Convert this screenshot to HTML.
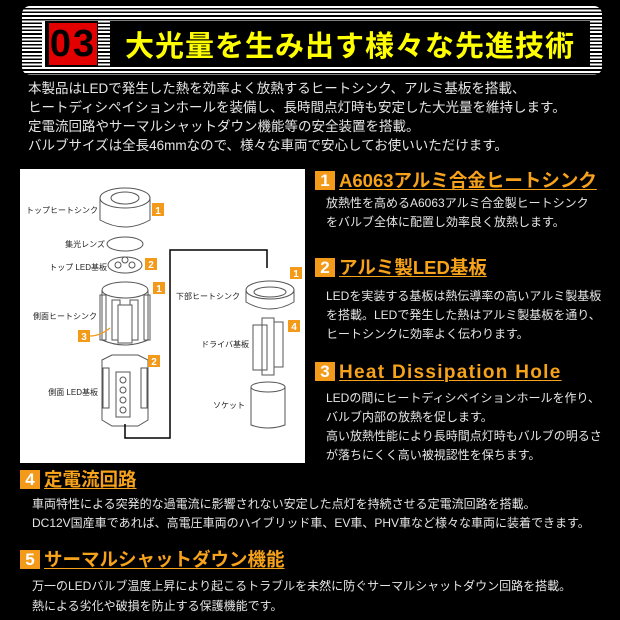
<!DOCTYPE html>
<html><head><meta charset="utf-8"><style>
*{margin:0;padding:0;box-sizing:border-box}
body{width:620px;height:620px;background:#000;position:relative;overflow:hidden;font-family:"Liberation Sans","Noto Sans CJK JP",sans-serif;color:#e8e8e8}
.band{position:absolute;left:22px;top:6px;width:580px;height:69px;border-radius:8px;background:repeating-linear-gradient(#fff 0 2px,#000 2px 3.6px)}
.num{position:absolute;left:42px;top:21px;width:56px;height:46px;background:#000;border-left:3px solid #fff}
.num span{position:absolute;left:4px;top:2px;width:48px;height:42px;background:#e20000;color:#000;font:bold 38px/42px "Liberation Sans",sans-serif;text-align:center;letter-spacing:2px}
.title{position:absolute;left:110px;top:21px;width:480px;height:46px;background:#000;color:#ffff00;font:bold 29px/46px "Noto Sans CJK JP",sans-serif;text-align:center;letter-spacing:1px;white-space:nowrap}
.t{position:absolute;font-size:13.5px;line-height:19px;white-space:nowrap;color:#e6e6e6}
.s{font-size:12px}
.h{position:absolute;white-space:nowrap;font-weight:bold;color:#f7a21b;font-size:18.5px;line-height:22px;text-decoration:underline;text-decoration-thickness:1px;text-underline-offset:2px}
.h b{display:inline-block;width:20px;height:19px;background:#f39a1a;color:#fff;text-align:center;font:bold 17px/19px "Liberation Sans",sans-serif;margin-right:4px;vertical-align:1px;text-decoration:none;letter-spacing:0}
.box{position:absolute;left:20px;top:169px;width:285px;height:294px;background:#fff}
</style></head><body>
<div class="band"></div>
<div class="num"><span>03</span></div>
<div class="title">大光量を生み出す様々な先進技術</div>
<div class="t" style="left:28px;top:79px">本製品はLEDで発生した熱を効率よく放熱するヒートシンク、アルミ基板を搭載、<br>ヒートディシペイションホールを装備し、長時間点灯時も安定した大光量を維持します。<br>定電流回路やサーマルシャットダウン機能等の安全装置を搭載。<br>バルブサイズは全長46mmなので、様々な車両で安心してお使いいただけます。</div>

<div class="box"></div>
<svg style="position:absolute;left:0;top:0" width="620" height="620" font-family="Liberation Sans,Noto Sans CJK JP,sans-serif" font-size="8">
<g fill="none" stroke="#555" stroke-width="1">
<path d="M100 198 v22 q25 14 50 0 v-22"/><ellipse cx="125" cy="198" rx="25" ry="10" fill="#fff"/><ellipse cx="125" cy="198" rx="14" ry="6"/>
<ellipse cx="125" cy="244" rx="18" ry="7"/>
<ellipse cx="125" cy="265" rx="17" ry="8"/><circle cx="118" cy="265" r="3"/><circle cx="132" cy="265" r="3"/><circle cx="125" cy="260" r="3"/>
<ellipse cx="125" cy="290" rx="23" ry="8"/><path d="M102 290 v50 q23 10 46 0 v-50"/>
<rect x="100" y="295" width="6" height="45"/><rect x="144" y="295" width="6" height="45"/><rect x="112" y="300" width="8" height="40"/><rect x="130" y="300" width="8" height="40"/><rect x="118" y="305" width="14" height="38" fill="#fff"/>
<path d="M102 360 l10-5 h26 l10 5 v60 l-10 6 h-26 l-10-6z"/><rect x="116" y="372" width="14" height="45"/><rect x="103" y="368" width="6" height="40"/><rect x="141" y="368" width="6" height="40"/>
<circle cx="123" cy="380" r="3"/><circle cx="123" cy="390" r="3"/><circle cx="123" cy="400" r="3"/><circle cx="123" cy="410" r="3"/>
<ellipse cx="270" cy="290" rx="24" ry="9"/><ellipse cx="270" cy="292" rx="16" ry="5"/><path d="M246 290 v12 q24 14 48 0 v-12"/>
<rect x="253" y="325" width="14" height="45"/><rect x="262" y="318" width="12" height="57"/><rect x="274" y="322" width="9" height="45"/>
<ellipse cx="268" cy="387" rx="17" ry="5"/><path d="M251 387 v38 q17 6 34 0 v-38"/>
</g>
<path d="M125 424 v14 h45 v-90 M170 350 v-100 h97 v18" fill="none" stroke="#000" stroke-width="1.5"/>
<path d="M90 336 q10 0 20 -8" fill="none" stroke="#f39a1a" stroke-width="1.2"/>
<g fill="#f39a1a"><rect x="152" y="203" width="12" height="13"/><rect x="145" y="258" width="12" height="12"/><rect x="153" y="282" width="12" height="12"/><rect x="78" y="330" width="12" height="12"/><rect x="148" y="355" width="12" height="12"/><rect x="290" y="267" width="12" height="12"/><rect x="288" y="320" width="12" height="12"/></g>
<g fill="#fff" font-size="10" font-weight="bold" text-anchor="middle"><text x="158" y="214">1</text><text x="151" y="268">2</text><text x="159" y="292">1</text><text x="84" y="340">3</text><text x="154" y="365">2</text><text x="296" y="277">1</text><text x="294" y="330">4</text></g>
<g fill="#222" text-anchor="end"><text x="98" y="213">トップヒートシンク</text><text x="105" y="247">集光レンズ</text><text x="107" y="270">トップ LED基板</text><text x="97" y="319">側面ヒートシンク</text><text x="98" y="395">側面 LED基板</text><text x="240" y="299">下部ヒートシンク</text><text x="249" y="347">ドライバ基板</text><text x="245" y="408">ソケット</text></g>
</svg>

<div class="h" style="left:315px;top:170px"><b>1</b>A6063アルミ合金ヒートシンク</div>
<div class="t s" style="left:326px;top:194px">放熱性を高めるA6063アルミ合金製ヒートシンク<br>をバルブ全体に配置し効率良く放熱します。</div>
<div class="h" style="left:315px;top:257px"><b>2</b>アルミ製LED基板</div>
<div class="t s" style="left:326px;top:287px">LEDを実装する基板は熱伝導率の高いアルミ製基板<br>を搭載。LEDで発生した熱はアルミ製基板を通り、<br>ヒートシンクに効率よく伝わります。</div>
<div class="h" style="left:315px;top:362px;letter-spacing:1.3px;font-size:19px"><b>3</b>Heat Dissipation Hole</div>
<div class="t s" style="left:326px;top:389px">LEDの間にヒートディシペイションホールを作り、<br>バルブ内部の放熱を促します。<br>高い放熱性能により長時間点灯時もバルブの明るさ<br>が落ちにくく高い被視認性を保ちます。</div>

<div class="h" style="left:20px;top:469px"><b>4</b>定電流回路</div>
<div class="t s" style="left:32px;top:495px">車両特性による突発的な過電流に影響されない安定した点灯を持続させる定電流回路を搭載。<br>DC12V国産車であれば、高電圧車両のハイブリッド車、EV車、PHV車など様々な車両に装着できます。</div>
<div class="h" style="left:20px;top:549px"><b>5</b>サーマルシャットダウン機能</div>
<div class="t s" style="left:32px;top:576px;line-height:20px">万一のLEDバルブ温度上昇により起こるトラブルを未然に防ぐサーマルシャットダウン回路を搭載。<br>熱による劣化や破損を防止する保護機能です。</div>
</body></html>
